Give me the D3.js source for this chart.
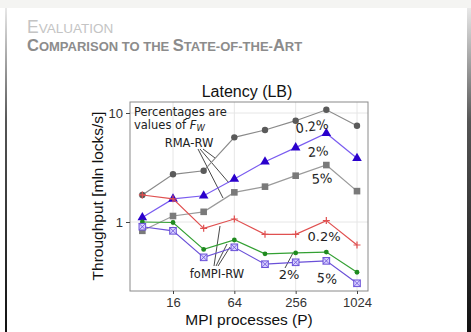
<!DOCTYPE html>
<html><head><meta charset="utf-8">
<script src="https://cdn.jsdelivr.net/npm/d3@7"></script>
<style>html,body{margin:0;padding:0;background:#fff;overflow:hidden}</style>
</head><body>
<svg id="c" width="471" height="332"></svg>
<script>
const procs = [8, 16, 32, 64, 128, 256, 512, 1024];
const rma02 = [1.77, 2.74, 2.95, 5.98, 6.98, 8.5, 10.7, 7.65];
const rma2  = [1.10, 1.63, 1.74, 2.48, 3.57, 4.81, 6.51, 3.84];
const rma5  = [0.83, 1.135, 1.24, 1.87, 2.11, 2.66, 3.33, 1.92];
const fo02  = [1.77, 1.63, 0.875, 1.065, 0.77, 0.77, 1.03, 0.615];
const fo2   = [1.0, 0.99, 0.56, 0.684, 0.51, 0.52, 0.53, 0.346];
const fo5   = [0.905, 0.83, 0.474, 0.586, 0.41, 0.427, 0.44, 0.274];
const xTicks = [16, 64, 256, 1024];
const yTicks = [1, 10];

const svg = d3.select("#c");
// slide background
const defs = svg.append("defs");
const g1 = defs.append("linearGradient").attr("id","edge").attr("x1",0).attr("y1",0).attr("x2",0).attr("y2",1);
g1.append("stop").attr("offset","0%").attr("stop-color","#e8e8e8");
g1.append("stop").attr("offset","35%").attr("stop-color","#555");
g1.append("stop").attr("offset","100%").attr("stop-color","#111");
svg.append("rect").attr("x",0).attr("y",0).attr("width",471).attr("height",332).attr("fill","#fff");
svg.append("rect").attr("x",0).attr("y",0).attr("width",471).attr("height",8).attr("fill","#f4f4f2");
svg.append("rect").attr("x",5).attr("y",8).attr("width",2).attr("height",324).attr("fill","url(#edge)");
svg.append("rect").attr("x",467).attr("y",8).attr("width",4).attr("height",324).attr("fill","url(#edge)");

// header in small caps
function smallCaps(sel, text, x, y, big, small, color, weight) {
  const t = sel.append("text").attr("x",x).attr("y",y).attr("fill",color)
    .attr("font-family","Liberation Sans, Arial, sans-serif").attr("font-weight",weight);
  const words = text.split(" ");
  words.forEach((w,wi)=>{
    const parts = w.match(/[A-Z\-]+|[a-z\-]+/g) || [];
    parts.forEach(p=>{
      const isUpper = p === p.toUpperCase() && /[A-Z]/.test(p);
      t.append("tspan").attr("font-size", isUpper?big:small).text(p.toUpperCase());
    });
    if (wi < words.length-1) t.append("tspan").attr("font-size",small).text(" ");
  });
}
smallCaps(svg, "Evaluation", 27, 33, 17.5, 13.5, "#c4c4c4", "normal");
smallCaps(svg, "Comparison to the State-of-the-Art", 27, 51, 16.5, 13, "#8c8c8c", "bold");

// scales
const x = d3.scaleLog().base(2).domain([16,1024]).range([173,357]);
const y = d3.scaleLog().domain([1,10]).range([222,113]);
const L = 130, R = 368, T = 102, B = 291;

// grid
const grid = svg.append("g");
xTicks.forEach(v=>grid.append("line").attr("x1",x(v)).attr("x2",x(v)).attr("y1",T).attr("y2",B).attr("stroke","#e6e6e6").attr("stroke-width",1));
yTicks.forEach(v=>grid.append("line").attr("x1",L).attr("x2",R).attr("y1",y(v)).attr("y2",y(v)).attr("stroke","#e6e6e6").attr("stroke-width",1));
svg.append("rect").attr("x",L).attr("y",T).attr("width",R-L).attr("height",B-T).attr("fill","none").attr("stroke","#8a8a8a").attr("stroke-width",1);

// axes
const xa = svg.append("g").attr("transform",`translate(0,${B})`)
  .call(d3.axisBottom(x).tickValues(xTicks).tickFormat(d3.format("d")).tickSize(3).tickPadding(4));
const ya = svg.append("g").attr("transform",`translate(${L},0)`)
  .call(d3.axisLeft(y).tickValues(yTicks).tickFormat(d3.format("d")).tickSize(4).tickPadding(3));
[xa,ya].forEach(a=>{
  a.select(".domain").remove();
  a.selectAll("line").attr("stroke","#444");
  a.selectAll("text").attr("font-family","Liberation Sans, Arial, sans-serif").attr("font-size",13).attr("fill","#333");
});

// titles
svg.append("text").attr("x",247).attr("y",97).attr("text-anchor","middle")
  .attr("font-family","Liberation Sans, Arial, sans-serif").attr("font-size",16).attr("fill","#111").text("Latency (LB)");
svg.append("text").attr("transform","translate(103,196) rotate(-90)").attr("text-anchor","middle")
  .attr("font-family","Liberation Sans, Arial, sans-serif").attr("font-size",15.5).attr("fill","#111").text("Throughput [mln locks/s]");
svg.append("text").attr("x",249).attr("y",325).attr("text-anchor","middle")
  .attr("font-family","Liberation Sans, Arial, sans-serif").attr("font-size",15.5).attr("fill","#111").text("MPI processes (P)");

// series
const line = d3.line().x(d=>x(d[0])).y(d=>y(d[1]));
const series = [
  {v: rma02, line:"#8a8a8a", mark:"circle", col:"#5a5a5a"},
  {v: rma2,  line:"#7a5cf0", mark:"triangle", col:"#2a00cc"},
  {v: rma5,  line:"#9a9a9a", mark:"square", col:"#7a7a7a"},
  {v: fo02,  line:"#e05050", mark:"plus", col:"#e05050"},
  {v: fo2,   line:"#33a033", mark:"dot", col:"#1f8a1f"},
  {v: fo5,   line:"#6a50d8", mark:"boxx", col:"#6a50d8"},
];

// leader lines
const lead = svg.append("g").attr("stroke","#333").attr("stroke-width",0.9);
[[203,149,215,158],[200,149,229,183],[198,149,223,198],
 [214,266,220,226],[216,266,227,244],[218,266,230,247],
 [285,268,293,253]].forEach(l=>lead.append("line").attr("x1",l[0]).attr("y1",l[1]).attr("x2",l[2]).attr("y2",l[3]));

series.forEach(s=>{
  const data = procs.map((p,i)=>[p,s.v[i]]);
  svg.append("path").datum(data).attr("d",line).attr("fill","none").attr("stroke",s.line).attr("stroke-width",1.2);
  const g = svg.append("g");
  data.forEach(d=>{
    const cx = x(d[0]), cy = y(d[1]);
    if (s.mark==="circle") g.append("circle").attr("cx",cx).attr("cy",cy).attr("r",3.2).attr("fill",s.col);
    else if (s.mark==="dot") g.append("circle").attr("cx",cx).attr("cy",cy).attr("r",2.4).attr("fill",s.col);
    else if (s.mark==="triangle") g.append("path").attr("d",d3.symbol(d3.symbolTriangle,40)()).attr("transform",`translate(${cx},${cy})`).attr("fill",s.col);
    else if (s.mark==="square") g.append("rect").attr("x",cx-3.3).attr("y",cy-3.3).attr("width",6.6).attr("height",6.6).attr("fill",s.col);
    else if (s.mark==="plus") { g.append("path").attr("d",`M${cx-3.5},${cy}H${cx+3.5}M${cx},${cy-3.5}V${cy+3.5}`).attr("stroke",s.col).attr("stroke-width",1.2); }
    else if (s.mark==="boxx") {
      g.append("rect").attr("x",cx-3.3).attr("y",cy-3.3).attr("width",6.6).attr("height",6.6).attr("fill","#d8d0ff").attr("stroke",s.col).attr("stroke-width",1);
      g.append("path").attr("d",`M${cx-3.3},${cy-3.3}L${cx+3.3},${cy+3.3}M${cx+3.3},${cy-3.3}L${cx-3.3},${cy+3.3}`).attr("stroke",s.col).attr("stroke-width",0.8);
    }
  });
});

// annotations
const ann = svg.append("g").attr("font-family","DejaVu Sans, sans-serif").attr("fill","#222");
ann.append("text").attr("x",134).attr("y",116).attr("font-size",11.5).text("Percentages are");
const vt = ann.append("text").attr("x",134).attr("y",129).attr("font-size",11.5).text("values of ");
vt.append("tspan").attr("font-style","italic").text("F");
vt.append("tspan").attr("font-style","italic").attr("font-size",8.5).attr("dy",2).text("W");
ann.append("text").attr("x",189).attr("y",147).attr("text-anchor","middle").attr("font-size",11.5).text("RMA-RW");
ann.append("text").attr("x",217).attr("y",278).attr("text-anchor","middle").attr("font-size",11.5).text("foMPI-RW");
[["0.2%",312,131,-8],["2%",318,156,-5],["5%",322,183,-4],
 ["0.2%",324,241,0],["2%",289,279,0],["5%",327,283,6]].forEach(a=>
  ann.append("text").attr("x",a[1]).attr("y",a[2]).attr("text-anchor","middle").attr("font-size",13)
    .attr("transform",`rotate(${a[3]},${a[1]},${a[2]-5})`).text(a[0]));
</script>
</body></html>
